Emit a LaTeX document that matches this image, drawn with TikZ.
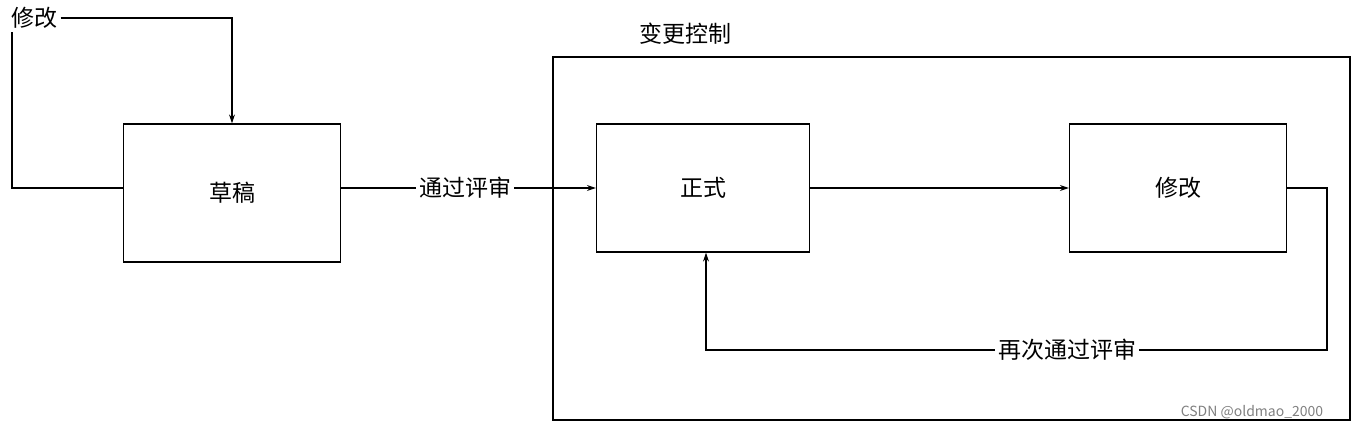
\documentclass[tikz,border=0pt]{standalone}
\usepackage{fontspec}
\setmainfont{Noto Sans CJK SC}
\usetikzlibrary{arrows.meta}
\begin{document}
\begin{tikzpicture}[x=1pt,y=-1pt,
  box/.style={draw,line width=1.2pt,minimum width=217pt,minimum height=134pt,font=\fontsize{23}{26}\selectfont},
  lbl/.style={fill=white,inner sep=3pt,font=\fontsize{23}{26}\selectfont},
  ln/.style={line width=1.2pt},
  arr/.style={ln,-{Stealth[length=9pt,width=6pt]}}]
\useasboundingbox (0,0) rectangle (1361,431);
\draw[ln] (553,57) rectangle (1350,420);
\node[font=\fontsize{23}{26}\selectfont] (ctl) at (685,34) {变更控制};
\node[box,minimum height=138pt] (draft) at (232,193) {草稿};
\node[box,minimum width=213pt,minimum height=128pt] (formal) at (703,188) {正式};
\node[box,minimum width=217pt,minimum height=128pt] (mod) at (1178,188) {修改};
\node[font=\fontsize{23}{26}\selectfont] (m0) at (34,18) {修改};
\coordinate (c1) at (232,18);
\coordinate (c2) at (12,32);
\coordinate (c3) at (12,188);
\coordinate (pl) at (340,188);
\draw[arr] (m0.east) -- (c1) -- (draft.north);
\draw[ln] (c2) -- (c3) -- (c3 -| draft.west);
\node[lbl] (pass) at (465,188) {通过评审};
\draw[ln] (pl) -- (pass.west);
\draw[arr] (pass.east) -- (formal.west);
\draw[arr] (formal.east) -- (mod.west);
\node[lbl] (again) at (1067,350) {再次通过评审};
\coordinate (d1) at (1327,188);
\coordinate (d2) at (1327,350);
\coordinate (d3) at (706,350);
\draw[ln] (mod.east) -- (d1) -- (d2) -- (again.east);
\draw[arr] (again.west) -- (d3) -- (formal.south -| d3);
\node[text=gray,font=\fontsize{14}{16}\selectfont] (wm) at (1252,412) {CSDN @oldmao\_2000};
\end{tikzpicture}
\end{document}
